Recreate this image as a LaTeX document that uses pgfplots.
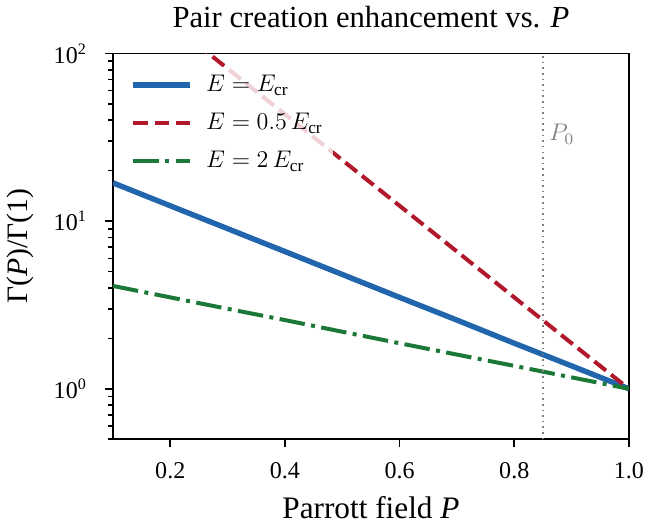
\documentclass[border=0pt]{standalone}
\usepackage{fontspec}
\setmainfont{Liberation Serif}
\usepackage{pgfplots}
\pgfplotsset{compat=1.18}
\definecolor{cblue}{RGB}{33,102,172}
\definecolor{cred}{RGB}{178,24,43}
\definecolor{cgreen}{RGB}{27,120,55}
\begin{document}
\begin{tikzpicture}
\begin{axis}[name=ax,
  scale only axis, width=257.5pt, height=192.5pt,
  xmin=0.1, xmax=1.0, ymin=0.5, ymax=100, ymode=log,
  xtick={0.2,0.4,0.6,0.8,1.0}, xticklabels={0.2,0.4,0.6,0.8,1.0},
  ytick={1,10,100}, yticklabels={10\textsuperscript{0},10\textsuperscript{1},10\textsuperscript{2}},
  minor ytick={0.5,0.6,0.7,0.8,0.9,2,3,4,5,6,7,8,9,20,30,40,50,60,70,80,90},
  tick align=outside, xtick pos=bottom, ytick pos=left,
  tick label style={font=\fontsize{12}{14}\selectfont},
  xticklabel shift=4pt, yticklabel shift=5.5pt,
  major tick length=4pt, minor tick length=2.3pt,
  tick style={line width=0.8pt, black},
  axis line style={line width=0.9pt},
  title={Pair creation enhancement vs. \textit{P}},
  title style={font=\fontsize{15.3}{17}\selectfont, yshift=3pt},
  xlabel={Parrott field \textit{P}},
  ylabel={Γ(\textit{P})/Γ(1)},
  xlabel style={font=\fontsize{15.6}{17}\selectfont},
  ylabel style={font=\fontsize{14.8}{17}\selectfont},
  xlabel shift=2pt, ylabel shift=3.2pt,
  legend style={at={(0.022,0.965)}, anchor=north west, draw=none, fill=white, fill opacity=0.8, text opacity=1,
    font=\fontsize{12.3}{14}\selectfont, row sep=5.2pt},
  legend cell align=left,
  legend image code/.code={\draw[#1] (0pt,0pt) -- (28pt,0pt); \path (33pt,0pt);},
]
\addplot[cblue, line width=2.7pt] coordinates {
(0.1,16.92) (0.2,12.35) (0.3,9.02) (0.4,6.59) (0.5,4.81) (0.6,3.51) (0.7,2.57) (0.8,1.87) (0.9,1.37) (1.0,1.0)};
\addlegendentry{$E = E_{\mathrm{cr}}$}
\addplot[cred, line width=2pt, dash pattern=on 7.4pt off 3.2pt] coordinates {
(0.1,285.7) (0.2,152.4) (0.3,81.3) (0.4,43.4) (0.5,23.14) (0.6,12.35) (0.7,6.59) (0.8,3.51) (0.9,1.87) (1.0,1.0)};
\addlegendentry{$E = 0.5\,E_{\mathrm{cr}}$}
\addplot[cgreen, line width=2pt, dash pattern=on 12.8pt off 3.2pt on 2pt off 3.2pt] coordinates {
(0.1,4.11) (0.2,3.51) (0.3,3.00) (0.4,2.57) (0.5,2.19) (0.6,1.87) (0.7,1.60) (0.8,1.37) (0.9,1.17) (1.0,1.0)};
\addlegendentry{$E = 2\,E_{\mathrm{cr}}$}
\addplot[gray, dotted, line width=0.8pt, forget plot] coordinates {(0.85,0.5) (0.85,100)};
\node[gray, anchor=west, font=\fontsize{11.5}{13}\selectfont, inner sep=3pt] at (axis cs:0.85,33) {$P_0$};
\end{axis}
\path (ax.south east) ++(15pt,0);
\end{tikzpicture}
\end{document}
